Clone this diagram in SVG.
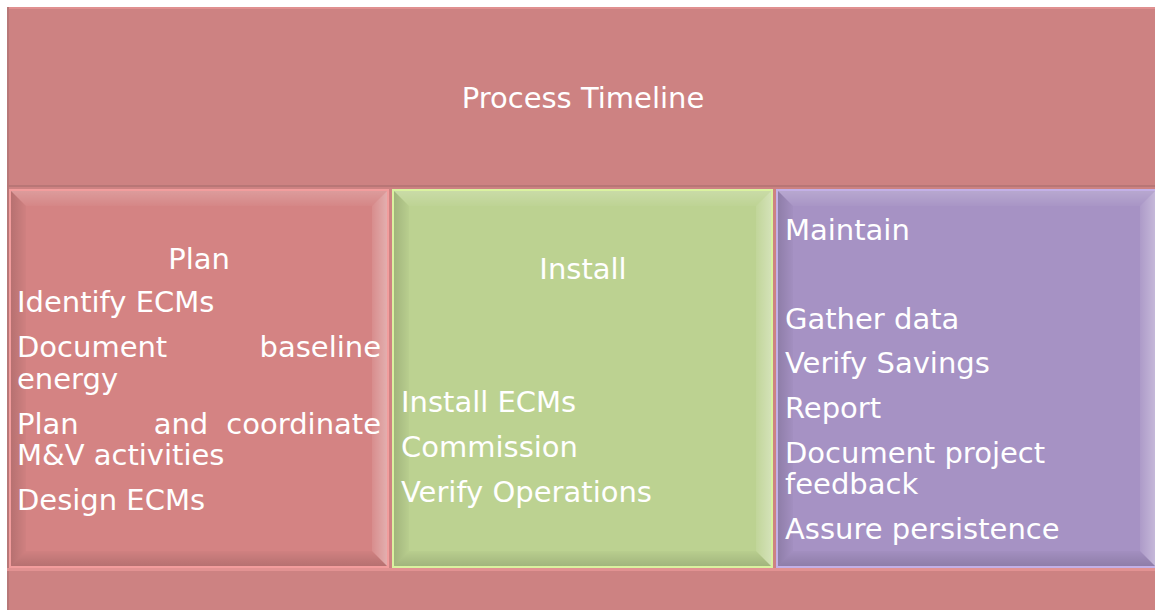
<svg xmlns="http://www.w3.org/2000/svg" width="1155" height="610" viewBox="0 0 1155 610">
<style>
text{font-family:"DejaVu Sans",Verdana,sans-serif;font-size:29px;fill:#ffffff}
</style>
<defs>
<linearGradient id="gt" x1="0" y1="0" x2="0" y2="1"><stop offset="0" stop-color="#fff" stop-opacity="0.2"/><stop offset="1" stop-color="#fff" stop-opacity="0.03"/></linearGradient>
<linearGradient id="gr" x1="1" y1="0" x2="0" y2="0"><stop offset="0" stop-color="#fff" stop-opacity="0.35"/><stop offset="1" stop-color="#fff" stop-opacity="0.08"/></linearGradient>
<linearGradient id="gl" x1="0" y1="0" x2="1" y2="0"><stop offset="0" stop-color="#000" stop-opacity="0.14"/><stop offset="1" stop-color="#000" stop-opacity="0.02"/></linearGradient>
<linearGradient id="gb" x1="0" y1="1" x2="0" y2="0"><stop offset="0" stop-color="#000" stop-opacity="0.14"/><stop offset="1" stop-color="#000" stop-opacity="0.02"/></linearGradient>
</defs>
<rect x="0" y="0" width="1155" height="610" fill="#ffffff"/>
<g id="timeline">
<rect x="7" y="7" width="1148" height="603" fill="#CD8282"/>
<rect x="7" y="7" width="1148" height="2" fill="#E09090"/>
<rect x="7" y="7" width="2" height="603" fill="#B87878"/>
<rect x="7" y="185" width="1148" height="2" fill="#B87676"/>
<rect x="7" y="568" width="1148" height="3" fill="#E29292"/>
<text x="583" y="108" text-anchor="middle">Process Timeline</text>
</g>
<g id="plan">
<rect x="9" y="189" width="380" height="379" fill="#F29D9D"/>
<rect x="11" y="191" width="376" height="375" fill="#D48383"/>
<polygon points="11,191 387,191 372,206 26,206" fill="url(#gt)"/>
<polygon points="387,191 387,566 372,551 372,206" fill="url(#gr)"/>
<polygon points="11,191 26,206 26,551 11,566" fill="url(#gl)"/>
<polygon points="11,566 26,551 372,551 387,566" fill="url(#gb)"/>
<text x="199" y="269" text-anchor="middle">Plan</text>
<text x="17" y="312">Identify ECMs</text>
<text x="17" y="357">Document</text>
<text x="381" y="357" text-anchor="end">baseline</text>
<text x="17" y="389">energy</text>
<text x="17" y="434">Plan</text>
<text x="181" y="434" text-anchor="middle">and</text>
<text x="381" y="434" text-anchor="end">coordinate</text>
<text x="17" y="465">M&amp;V activities</text>
<text x="17" y="510">Design ECMs</text>
</g>
<g id="install">
<rect x="392" y="189" width="381" height="379" fill="#DAF2A0"/>
<rect x="394" y="191" width="377" height="375" fill="#BCD291"/>
<polygon points="394,191 771,191 756,206 409,206" fill="url(#gt)"/>
<polygon points="771,191 771,566 756,551 756,206" fill="url(#gr)"/>
<polygon points="394,191 409,206 409,551 394,566" fill="url(#gl)"/>
<polygon points="394,566 409,551 756,551 771,566" fill="url(#gb)"/>
<text x="583" y="279" text-anchor="middle">Install</text>
<text x="401" y="412">Install ECMs</text>
<text x="401" y="457">Commission</text>
<text x="401" y="502">Verify Operations</text>
</g>
<g id="maintain">
<rect x="776" y="189" width="379" height="379" fill="#C3B0E6"/>
<rect x="778" y="191" width="377" height="375" fill="#A692C4"/>
<polygon points="778,191 1155,191 1140,206 793,206" fill="url(#gt)"/>
<polygon points="1155,191 1155,566 1140,551 1140,206" fill="url(#gr)"/>
<polygon points="778,191 793,206 793,551 778,566" fill="url(#gl)"/>
<polygon points="778,566 793,551 1140,551 1155,566" fill="url(#gb)"/>
<text x="785" y="240">Maintain</text>
<text x="785" y="329">Gather data</text>
<text x="785" y="373">Verify Savings</text>
<text x="785" y="418">Report</text>
<text x="785" y="463">Document project</text>
<text x="785" y="494">feedback</text>
<text x="785" y="539">Assure persistence</text>
</g>
<g id="connectors"/>
</svg>
